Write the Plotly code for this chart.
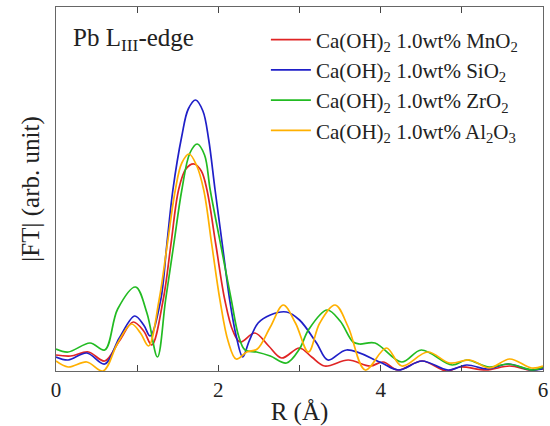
import plotly.graph_objects as go

# ---- data (R in Å, |FT| in arbitrary units) ----
r_mno2 = [0, 0.18, 0.40, 0.60, 0.78, 0.95, 1.08, 1.18, 1.32, 1.415, 1.51, 1.60, 1.70, 1.79, 1.86, 1.97, 2.08, 2.18, 2.27,
          2.45, 2.62, 2.78, 3.0, 3.15, 3.31, 3.6, 3.87, 4.03, 4.21, 4.51, 4.81, 4.98, 5.3, 5.59, 5.85, 6.0]
y_mno2 = [0.16, 0.15, 0.19, 0.10, 0.30, 0.49, 0.40, 0.26, 0.71, 1.26, 1.81, 2.02, 2.07, 2.00, 1.81, 1.26, 0.71, 0.40, 0.29,
          0.38, 0.25, 0.13, 0.23, 0.14, 0.05, 0.11, 0.05, 0.09, 0.01, 0.10, 0.0, 0.04, 0.01, 0.05, 0.01, 0.03]

r_sio2 = [0, 0.15, 0.38, 0.60, 0.78, 0.97, 1.08, 1.16, 1.29, 1.365, 1.44, 1.55, 1.63, 1.72, 1.81, 1.88, 1.96, 2.05, 2.14,
          2.22, 2.30, 2.38, 2.49, 2.64, 2.84, 3.0, 3.21, 3.35, 3.58, 3.99, 4.22, 4.51, 4.83, 5.06, 5.32, 5.57, 5.85, 6.0]
y_sio2 = [0.14, 0.11, 0.18, 0.07, 0.33, 0.55, 0.46, 0.35, 0.71, 1.26, 1.81, 2.35, 2.62, 2.71, 2.60, 2.32, 1.81, 1.26, 0.71,
          0.35, 0.14, 0.30, 0.48, 0.56, 0.59, 0.51, 0.28, 0.11, 0.21, 0.09, 0.01, 0.10, 0.01, 0.06, 0.02, 0.07, 0.01, 0.02]

r_zro2 = [0, 0.15, 0.42, 0.60, 0.76, 0.98, 1.12, 1.25, 1.35, 1.45, 1.55, 1.65, 1.74, 1.83, 1.90, 2.03, 2.16, 2.25, 2.33,
          2.47, 2.64, 2.84, 3.0, 3.11, 3.34, 3.50, 3.66, 3.74, 3.93, 4.26, 4.50, 4.88, 5.06, 5.34, 5.57, 5.88, 6.0]
y_zro2 = [0.22, 0.19, 0.28, 0.21, 0.62, 0.84, 0.58, 0.14, 0.71, 1.26, 1.81, 2.18, 2.27, 2.16, 1.81, 1.26, 0.71, 0.35, 0.21,
          0.19, 0.15, 0.08, 0.22, 0.41, 0.61, 0.50, 0.29, 0.27, 0.28, 0.09, 0.21, 0.06, 0.11, 0.04, 0.07, 0.01, 0.04]

r_al2o3 = [0, 0.15, 0.38, 0.58, 0.76, 0.93, 1.04, 1.14, 1.27, 1.37, 1.47, 1.55, 1.64, 1.73, 1.82, 1.92, 2.02, 2.12, 2.22,
           2.35, 2.48, 2.64, 2.80, 2.95, 3.11, 3.25, 3.44, 3.60, 3.81, 4.07, 4.26, 4.58, 4.85, 5.1, 5.34, 5.59, 5.86, 6.0]
y_al2o3 = [0.10, 0.04, 0.09, 0.0, 0.28, 0.47, 0.38, 0.25, 0.71, 1.26, 1.81, 2.08, 2.17, 2.06, 1.81, 1.26, 0.71, 0.30, 0.12,
           0.19, 0.22, 0.44, 0.66, 0.48, 0.19, 0.48, 0.66, 0.44, 0.01, 0.23, 0.05, 0.19, 0.08, 0.11, 0.03, 0.12, 0.03, 0.05]

series = [
    ("Ca(OH)<sub>2</sub> 1.0wt% MnO<sub>2</sub>", r_mno2, y_mno2, "#e02424"),
    ("Ca(OH)<sub>2</sub> 1.0wt% SiO<sub>2</sub>", r_sio2, y_sio2, "#1f1fc8"),
    ("Ca(OH)<sub>2</sub> 1.0wt% ZrO<sub>2</sub>", r_zro2, y_zro2, "#22bb22"),
    ("Ca(OH)<sub>2</sub> 1.0wt% Al<sub>2</sub>O<sub>3</sub>", r_al2o3, y_al2o3, "#ffb000"),
]

x_tick_vals = [0, 1, 2, 3, 4, 5, 6]
x_tick_text = ["0", "", "2", "", "4", "", "6"]

FONT = "Liberation Serif, Times New Roman, serif"

fig = go.Figure()
for name, xs, ys, col in series:
    fig.add_trace(go.Scatter(x=xs, y=ys, mode="lines", name=name,
                             line=dict(color=col, width=1.7, shape="spline", smoothing=1.0)))

fig.update_layout(
    width=550, height=426,
    margin=dict(l=56, r=7, t=7, b=55, autoexpand=False),
    paper_bgcolor="white", plot_bgcolor="white",
    font=dict(family=FONT, size=21, color="#222"),
    showlegend=True,
    legend=dict(x=0.431, y=0.966, xanchor="left", yanchor="top",
                bgcolor="rgba(0,0,0,0)", font=dict(size=21), itemwidth=40,
                tracegroupgap=0),
    annotations=[dict(text="Pb L<sub>III</sub>-edge", x=0.03, y=0.91, xref="paper", yref="paper",
                      xanchor="left", yanchor="middle", showarrow=False, font=dict(size=25))],
)
fig.update_xaxes(range=[0, 6], tickmode="array", tickvals=x_tick_vals, ticktext=x_tick_text,
                 ticks="inside", ticklen=6, tickwidth=1.4, tickcolor="#444",
                 automargin=False,
                 showline=True, linecolor="#666", linewidth=1.2, mirror="allticks", showgrid=False, zeroline=False,
                 title=dict(text="R (Å)", standoff=2))
fig.update_yaxes(range=[0, 3.64], showticklabels=False, ticks="", showline=True, linecolor="#666",
                 linewidth=1.2, mirror=True, showgrid=False, zeroline=False, automargin=False,
                 title=dict(text="|FT| (arb. unit)", standoff=8))

fig.write_html("out.html", config={"displayModeBar": False},
               post_script="document.body.style.margin='0';document.body.style.padding='0';")
